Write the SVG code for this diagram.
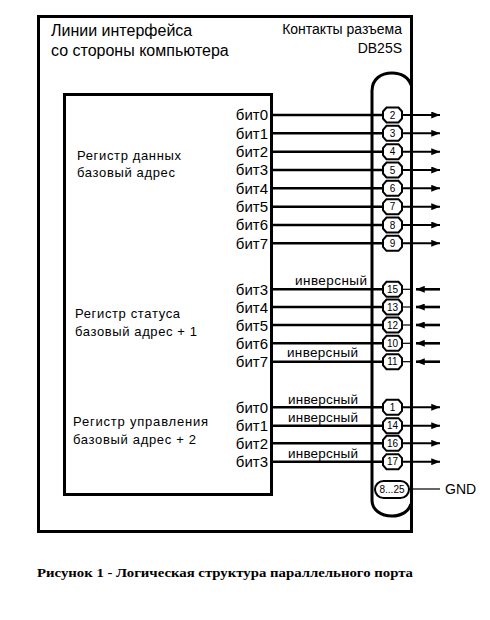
<svg xmlns="http://www.w3.org/2000/svg" width="490" height="620" viewBox="0 0 490 620">
<style>
text{font-family:"Liberation Sans",Arial,sans-serif;fill:#000}
.ttl{font-size:16px}
.hd{font-size:14px}
.reg{font-size:13px}
.bit{font-size:15px;text-anchor:end}
.inv{font-size:13.5px}
.pn{font-size:10px;text-anchor:middle}
.pg{font-size:10px;text-anchor:middle}
.cap{font-family:"Liberation Serif","Times New Roman",serif;font-size:13px;font-weight:bold}
.frame{fill:none;stroke:#000;stroke-width:3}
.w{stroke:#000;stroke-width:2.6;fill:none}
.o{stroke:#000;stroke-width:2;fill:none}
.t{stroke:#000;stroke-width:1.2;fill:none}
.pin{fill:#fff;stroke:#000;stroke-width:2}
</style>
<defs>
<marker id="ah" viewBox="0 0 10 8" refX="10" refY="4" markerWidth="10" markerHeight="7" markerUnits="userSpaceOnUse" orient="auto">
<path d="M0,0 L10,4 L0,8 z" fill="#000"/>
</marker>
<polygon id="oct" points="-9.5,-3.5 -6,-7.5 6,-7.5 9.5,-3.5 9.5,3.5 6,7.5 -6,7.5 -9.5,3.5"/>
</defs>
<rect width="490" height="620" fill="#fff"/>

<g id="frame">
<rect class="frame" x="38.5" y="16.5" width="373" height="515"/>
<text class="ttl" x="51" y="36">Линии интерфейса</text>
<text class="ttl" x="51" y="56">со стороны компьютера</text>
<text class="hd" x="402" y="34" text-anchor="end">Контакты разъема</text>
<text class="hd" x="402" y="53" text-anchor="end">DB25S</text>
</g>

<g id="registers">
<rect class="frame" x="64.5" y="94.5" width="207" height="400"/>
<text class="reg" x="77" y="160" textLength="104">Регистр данных</text>
<text class="reg" x="77" y="177" textLength="98">базовый адрес</text>
<text class="reg" x="75" y="318" textLength="105">Регистр статуса</text>
<text class="reg" x="75" y="336" textLength="122">базовый адрес + 1</text>
<text class="reg" x="73" y="426" textLength="135">Регистр управления</text>
<text class="reg" x="73" y="444" textLength="123">базовый адрес + 2</text>
<g id="bits">
<text class="bit" x="268" y="120">бит0</text>
<text class="bit" x="268" y="138.5">бит1</text>
<text class="bit" x="268" y="157">бит2</text>
<text class="bit" x="268" y="175">бит3</text>
<text class="bit" x="268" y="193.5">бит4</text>
<text class="bit" x="268" y="212">бит5</text>
<text class="bit" x="268" y="230">бит6</text>
<text class="bit" x="268" y="248.5">бит7</text>
<text class="bit" x="268" y="295">бит3</text>
<text class="bit" x="268" y="313">бит4</text>
<text class="bit" x="268" y="331">бит5</text>
<text class="bit" x="268" y="349">бит6</text>
<text class="bit" x="268" y="367">бит7</text>
<text class="bit" x="268" y="413">бит0</text>
<text class="bit" x="268" y="431">бит1</text>
<text class="bit" x="268" y="449">бит2</text>
<text class="bit" x="268" y="467">бит3</text>
</g>
</g>

<g id="connector">
<path class="frame" d="M372,96 V91 C372,79 381,73 392,73 C402,73 409,78 411,85"/>
<path class="frame" d="M372,96 V500 C372,510 381,516 392,516 C402,516 409,511 411,504"/>
</g>

<g id="connectors">
<g id="data">
<line class="w" x1="271" y1="115" x2="384" y2="115"/><line class="o" x1="401" y1="115" x2="440" y2="115" marker-end="url(#ah)"/>
<line class="w" x1="271" y1="133.3" x2="384" y2="133.3"/><line class="o" x1="401" y1="133.3" x2="440" y2="133.3" marker-end="url(#ah)"/>
<line class="w" x1="271" y1="151.7" x2="384" y2="151.7"/><line class="o" x1="401" y1="151.7" x2="440" y2="151.7" marker-end="url(#ah)"/>
<line class="w" x1="271" y1="170" x2="384" y2="170"/><line class="o" x1="401" y1="170" x2="440" y2="170" marker-end="url(#ah)"/>
<line class="w" x1="271" y1="188.3" x2="384" y2="188.3"/><line class="o" x1="401" y1="188.3" x2="440" y2="188.3" marker-end="url(#ah)"/>
<line class="w" x1="271" y1="206.7" x2="384" y2="206.7"/><line class="o" x1="401" y1="206.7" x2="440" y2="206.7" marker-end="url(#ah)"/>
<line class="w" x1="271" y1="225" x2="384" y2="225"/><line class="o" x1="401" y1="225" x2="440" y2="225" marker-end="url(#ah)"/>
<line class="w" x1="271" y1="243.3" x2="384" y2="243.3"/><line class="o" x1="401" y1="243.3" x2="440" y2="243.3" marker-end="url(#ah)"/>
</g>
<g id="status">
<line class="w" x1="271" y1="289.3" x2="384" y2="289.3"/><line class="t" x1="401" y1="289.3" x2="412" y2="289.3"/><line class="w" x1="440" y1="289.3" x2="416" y2="289.3" marker-end="url(#ah)"/>
<line class="w" x1="271" y1="307" x2="384" y2="307"/><line class="t" x1="401" y1="307" x2="412" y2="307"/><line class="w" x1="440" y1="307" x2="416" y2="307" marker-end="url(#ah)"/>
<line class="w" x1="271" y1="325" x2="384" y2="325"/><line class="t" x1="401" y1="325" x2="412" y2="325"/><line class="w" x1="440" y1="325" x2="416" y2="325" marker-end="url(#ah)"/>
<line class="w" x1="271" y1="343.3" x2="384" y2="343.3"/><line class="t" x1="401" y1="343.3" x2="412" y2="343.3"/><line class="w" x1="440" y1="343.3" x2="416" y2="343.3" marker-end="url(#ah)"/>
<line class="w" x1="271" y1="361.7" x2="384" y2="361.7"/><line class="t" x1="401" y1="361.7" x2="412" y2="361.7"/><line class="w" x1="440" y1="361.7" x2="416" y2="361.7" marker-end="url(#ah)"/>
</g>
<g id="control">
<line class="w" x1="271" y1="407.3" x2="384" y2="407.3"/><line class="o" x1="401" y1="407.3" x2="440" y2="407.3" marker-end="url(#ah)"/>
<line class="w" x1="271" y1="425.7" x2="384" y2="425.7"/><line class="o" x1="401" y1="425.7" x2="440" y2="425.7" marker-end="url(#ah)"/>
<line class="w" x1="271" y1="443.3" x2="384" y2="443.3"/><line class="o" x1="401" y1="443.3" x2="440" y2="443.3" marker-end="url(#ah)"/>
<line class="w" x1="271" y1="461.7" x2="384" y2="461.7"/><line class="o" x1="401" y1="461.7" x2="440" y2="461.7" marker-end="url(#ah)"/>
</g>
<line id="gnd" class="t" x1="409" y1="489" x2="440" y2="489"/>
<text class="inv" x="295" y="285" textLength="72">инверсный</text>
<text class="inv" x="287" y="357" textLength="71">инверсный</text>
<text class="inv" x="288" y="404" textLength="70">инверсный</text>
<text class="inv" x="288" y="422" textLength="70">инверсный</text>
<text class="inv" x="288" y="458" textLength="70">инверсный</text>
</g>

<g id="pins">
<g class="pin">
<use href="#oct" x="392.5" y="115"/><use href="#oct" x="392.5" y="133.3"/><use href="#oct" x="392.5" y="151.7"/><use href="#oct" x="392.5" y="170"/>
<use href="#oct" x="392.5" y="188.3"/><use href="#oct" x="392.5" y="206.7"/><use href="#oct" x="392.5" y="225"/><use href="#oct" x="392.5" y="243.3"/>
<use href="#oct" x="392.5" y="289.3"/><use href="#oct" x="392.5" y="307"/><use href="#oct" x="392.5" y="325"/><use href="#oct" x="392.5" y="343.3"/><use href="#oct" x="392.5" y="361.7"/>
<use href="#oct" x="392.5" y="407.3"/><use href="#oct" x="392.5" y="425.7"/><use href="#oct" x="392.5" y="443.3"/><use href="#oct" x="392.5" y="461.7"/>
</g>
<text class="pn" x="392.5" y="118.5">2</text>
<text class="pn" x="392.5" y="136.8">3</text>
<text class="pn" x="392.5" y="155.2">4</text>
<text class="pn" x="392.5" y="173.5">5</text>
<text class="pn" x="392.5" y="191.8">6</text>
<text class="pn" x="392.5" y="210.2">7</text>
<text class="pn" x="392.5" y="228.5">8</text>
<text class="pn" x="392.5" y="246.8">9</text>
<text class="pn" x="392.5" y="292.8">15</text>
<text class="pn" x="392.5" y="310.5">13</text>
<text class="pn" x="392.5" y="328.5">12</text>
<text class="pn" x="392.5" y="346.8">10</text>
<text class="pn" x="392.5" y="365.2">11</text>
<text class="pn" x="392.5" y="410.8">1</text>
<text class="pn" x="392.5" y="429.2">14</text>
<text class="pn" x="392.5" y="446.8">16</text>
<text class="pn" x="392.5" y="465.2">17</text>
<rect class="pin" x="375" y="481" width="34" height="17" rx="8.5"/>
<text class="pg" x="392" y="493">8...25</text>
<text class="hd" x="445" y="494">GND</text>
</g>

<text class="cap" x="37" y="577" textLength="376" lengthAdjust="spacingAndGlyphs">Рисунок 1 - Логическая структура параллельного порта</text>
</svg>
